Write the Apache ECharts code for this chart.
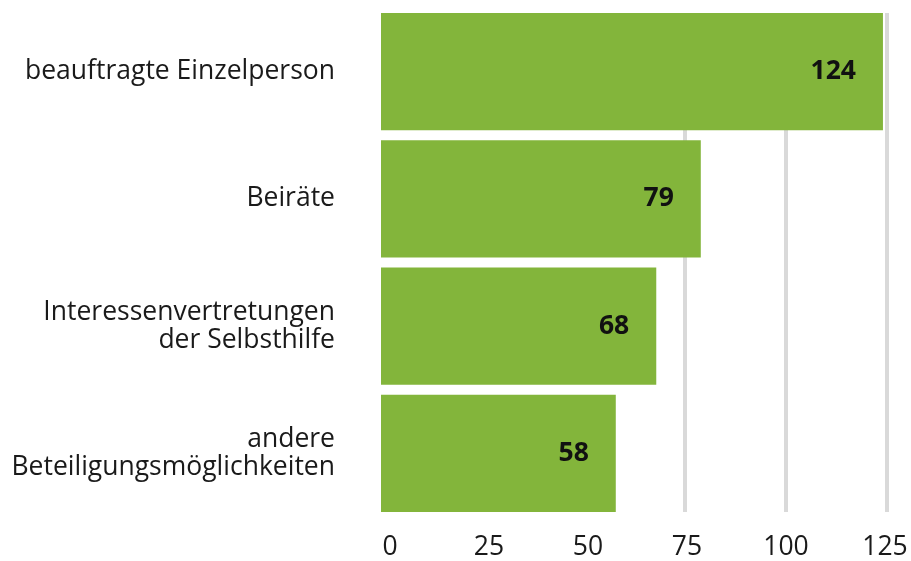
<!DOCTYPE html>
<html>
<head>
<meta charset="utf-8">
<script src="https://cdn.jsdelivr.net/npm/echarts@6/dist/echarts.min.js"></script>
<style>
html,body{margin:0;padding:0;background:#fff;}
#chart{width:911px;height:561px;}
</style>
</head>
<body>
<div id="chart"></div>
<script>
var categories = ["beauftragte Einzelperson", "Beiräte", "Interessenvertretungen\nder Selbsthilfe", "andere\nBeteiligungsmöglichkeiten"];
var values = [124, 79, 68, 58];
var xTicks = [0, 25, 50, 75, 100, 125];
var visibleGridLines = [75, 100, 125];

var FONT = "'Open Sans', 'Noto Sans', sans-serif";
var xMin = xTicks[0], xMax = xTicks[xTicks.length - 1];
var chart = echarts.init(document.getElementById('chart'), null, {renderer: 'canvas'});
chart.setOption({
  animation: false,
  backgroundColor: '#ffffff',
  grid: [
    {left: 381, right: 24, top: 13, bottom: 49},
    {left: 381, right: 24, top: 8, bottom: 44},
    {left: 390, right: 26, top: 13, bottom: 49}
  ],
  xAxis: [
    {
      gridIndex: 0, type: 'value', min: xMin, max: xMax, interval: 25,
      show: false, splitLine: {show: false}
    },
    {
      gridIndex: 1, type: 'value', min: xMin, max: xMax, interval: 25,
      show: false, splitLine: {show: false}
    },
    {
      gridIndex: 2, type: 'value', min: xMin, max: xMax, interval: 25,
      axisLine: {show: false}, axisTick: {show: false},
      axisLabel: {color: '#1a1a1a', fontSize: 26.5, fontFamily: FONT, margin: 23},
      splitLine: {show: false}
    }
  ],
  yAxis: [
    {
      gridIndex: 0, type: 'category', data: categories, inverse: true, show: false
    },
    {
      gridIndex: 1, type: 'category', data: categories, inverse: true,
      axisLine: {show: false}, axisTick: {show: false},
      axisLabel: {color: '#1a1a1a', fontSize: 26.5, fontFamily: FONT, margin: 46, lineHeight: 28, align: 'right'},
      splitLine: {show: false}
    },
    {
      gridIndex: 2, type: 'category', data: categories, inverse: true, show: false
    }
  ],
  series: [
    {
      type: 'line',
      xAxisIndex: 0, yAxisIndex: 0,
      data: [],
      z: 1,
      silent: true,
      markLine: {
        z: 1,
        silent: true,
        symbol: 'none',
        label: {show: false},
        lineStyle: {color: '#d9d9d9', width: 4, type: 'solid'},
        data: visibleGridLines.map(function (v) { return {xAxis: v}; })
      }
    },
    {
      type: 'bar',
      xAxisIndex: 1, yAxisIndex: 1,
      data: values,
      zlevel: 1,
      z: 3,
      barCategoryGap: '7.9%',
      itemStyle: {color: '#83b53b'},
      label: {
        show: true, position: 'insideRight', distance: 27,
        color: '#111111', fontSize: 26.5, fontWeight: 'bold', fontFamily: FONT
      }
    }
  ]
});
</script>
</body>
</html>
